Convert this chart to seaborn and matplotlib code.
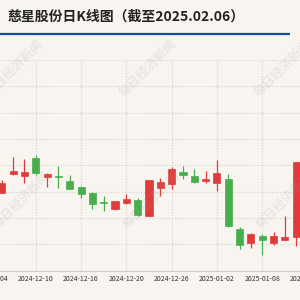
import matplotlib
matplotlib.use("Agg")
import matplotlib.pyplot as plt
import seaborn as sns
import numpy as np
from matplotlib.lines import Line2D

# ---------------- data ----------------
title = "慈星股份日K线图（截至2025.02.06）"
watermark = "每日经济新闻"

axis_days = [
    "2024-12-04", "2024-12-05", "2024-12-06", "2024-12-09", "2024-12-10",
    "2024-12-11", "2024-12-12", "2024-12-13", "2024-12-16", "2024-12-17",
    "2024-12-18", "2024-12-19", "2024-12-20", "2024-12-23", "2024-12-24",
    "2024-12-25", "2024-12-26", "2024-12-27", "2024-12-30", "2024-12-31",
    "2025-01-02", "2025-01-03", "2025-01-06", "2025-01-07", "2025-01-08",
    "2025-01-09", "2025-01-10", "2025-01-13", "2025-01-14",
]
tick_labels = ["2024-12-04", "2024-12-10", "2024-12-16", "2024-12-20",
               "2024-12-26", "2025-01-02", "2025-01-08", "2025-01-14"]

candle_dates = axis_days[1:28]
open_ = [7.98, 8.34, 8.30, 8.63, 8.28, 8.30, 8.21, 8.08, 7.98, 7.81, 7.67, 7.79, 7.84, 7.53,
         8.07, 8.15, 8.38, 8.30, 8.20, 8.16, 8.24, 7.28, 7.03, 7.15, 7.02, 7.08, 7.13]
close = [8.17, 8.40, 8.37, 8.35, 8.33, 8.27, 8.04, 7.96, 7.77, 7.78, 7.82, 7.85, 7.55, 8.22,
         8.19, 8.42, 8.32, 8.18, 8.24, 8.36, 7.35, 6.98, 7.20, 7.08, 7.15, 7.13, 8.57]
high = [8.22, 8.66, 8.62, 8.69, 8.36, 8.49, 8.32, 8.10, 7.99, 7.92, 7.83, 7.95, 7.88, 8.22,
        8.26, 8.46, 8.48, 8.43, 8.39, 8.60, 8.33, 7.32, 7.22, 7.19, 7.23, 7.53, 8.57]
low = [7.97, 8.31, 8.17, 8.32, 8.09, 8.07, 8.04, 7.88, 7.66, 7.63, 7.65, 7.77, 7.53, 7.53,
       7.92, 8.04, 8.24, 8.17, 8.17, 8.01, 7.33, 6.90, 6.93, 6.80, 6.99, 7.08, 6.97]

# ---------------- style ----------------
bg = "#f8f5f0"
red = "#e03b3b"
green = "#48ad4c"
grid_c = "#d6d3cf"

sns.set_theme(style="white", rc={"figure.facecolor": bg, "axes.facecolor": bg})
plt.rcParams["font.family"] = ["Noto Sans CJK SC", "DejaVu Sans"]

W = H = 300
fig = plt.figure(figsize=(3, 3), dpi=100, facecolor=bg)

ax_left_px, ax_right_px = -60, 360
ax_top_px, ax_bottom_px = 60, 270.5
ax = fig.add_axes([ax_left_px / W, 1 - ax_bottom_px / H,
                   (ax_right_px - ax_left_px) / W, (ax_bottom_px - ax_top_px) / H])
ax.set_facecolor(bg)

# pixel mapping of categories: px = x0 + step * i
x0, step = -9.62, 11.33
ax.set_xlim((ax_left_px - x0) / step, (ax_right_px - x0) / step)
ax.set_ylim(6.5, 10.5)

# grid
ax.set_yticks(np.arange(6.5, 10.51, 0.5))
ax.set_yticklabels([])
tick_pos = [axis_days.index(t) for t in tick_labels]
ax.set_xticks(tick_pos)
ax.set_xticklabels(tick_labels)
ax.grid(True, axis="both", linestyle=(0, (1, 1.5)), color=grid_c, linewidth=0.8)
ax.set_axisbelow(True)
ax.tick_params(axis="x", length=0, pad=3, labelsize=5, colors="#333333")
ax.tick_params(axis="y", length=0)

sns.despine(ax=ax, left=True, top=True, right=True, bottom=False)
ax.spines["bottom"].set_color("#cfcac4")
ax.spines["bottom"].set_linewidth(0.8)

# candles
for d, o, h, l, c in zip(candle_dates, open_, high, low, close):
    x = axis_days.index(d)
    col = red if c >= o else green
    ax.vlines(x, l, h, color=col, linewidth=0.9, zorder=2)
    bot = min(o, c)
    hgt = max(abs(c - o), 0.025)
    ax.bar(x, hgt, bottom=bot, width=0.62, color=col, edgecolor=col, linewidth=0.5, zorder=3)

# title and rule
fig.text(7 / W, 1 - 17 / H, title, fontsize=10, fontweight="bold", color="#222222",
         ha="left", va="center")
fig.add_artist(Line2D([0, 290 / W], [1 - 34.3 / H, 1 - 34.3 / H],
                      color="#0f4ea3", linewidth=1.6, solid_capstyle="butt",
                      transform=fig.transFigure))

# watermarks
for (wx, wy) in [(15, 68), (148, 68), (283, 68), (22, 200), (152, 200), (285, 200)]:
    fig.text(wx / W, 1 - wy / H, watermark, fontsize=9, color="#a0a0a0", alpha=0.17,
             rotation=45, ha="center", va="center", rotation_mode="anchor",
             fontweight="bold", zorder=10)

fig.savefig("out.png", dpi=100, facecolor=bg)
